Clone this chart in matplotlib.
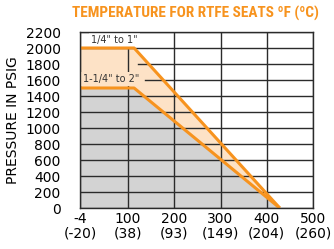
import matplotlib
matplotlib.use("Agg")
import matplotlib.pyplot as plt

# temperature (F) / pressure (psig) rating curves
small_temp = [-4, 113, 428]
small_psi = [2000, 2000, 0]
large_temp = [-4, 113, 428]
large_psi = [1500, 1500, 0]

x_ticks = [-4, 100, 200, 300, 400, 500]
x_labels = ["-4\n(-20)", "100\n(38)", "200\n(93)", "300\n(149)", "400\n(204)", "500\n(260)"]
y_ticks = list(range(0, 2201, 200))

ORANGE = "#f7931e"
PEACH = "#fde2c6"
GREY = "#d3d3d3"
GRID = "#2b2b2b"

fig = plt.figure(figsize=(3.34, 2.49), dpi=100)
ax = fig.add_axes([80 / 334, 1 - 208 / 249, 233 / 334, 176 / 249])

ax.fill_between(small_temp, small_psi, color=PEACH, lw=0, zorder=1)
ax.fill_between(large_temp, large_psi, color=GREY, lw=0, zorder=2)

# grid: the labelled rows are partly cut away near the size labels
for y in y_ticks:
    xmin = 0.0
    if y == 1800:
        xmin = 0.25
    elif y == 1600:
        xmin = 0.28
    ax.axhline(y, xmin=xmin, color=GRID, lw=1.0, zorder=3)
for x in x_ticks:
    ax.axvline(x, color=GRID, lw=1.0, zorder=3)

ax.plot(small_temp, small_psi, color=ORANGE, lw=2.2, zorder=4, solid_capstyle="butt")
ax.plot(large_temp, large_psi, color=ORANGE, lw=2.2, zorder=4, solid_capstyle="butt")

ax.text(70, 2100, '1/4" to 1"', fontsize=7, ha="center", va="center", color="#333333", zorder=3.5,
        bbox=dict(facecolor="white", edgecolor="none", pad=1.5))
ax.text(64, 1610, '1-1/4" to 2"', fontsize=7, ha="center", va="center", color="#333333", zorder=3.5,
        bbox=dict(facecolor=PEACH, edgecolor="none", pad=1.5))

ax.set_xlim(-4, 500)
ax.set_ylim(0, 2200)
ax.set_xticks(x_ticks)
ax.set_xticklabels(x_labels, fontsize=10, linespacing=1.0)
ax.set_yticks(y_ticks)
ax.set_yticklabels([str(v) for v in y_ticks], fontsize=10)
ax.tick_params(axis="x", length=0, pad=3)
ax.tick_params(axis="y", length=0, pad=14)
for s in ax.spines.values():
    s.set_color(GRID)
    s.set_linewidth(1.0)
    s.set_zorder(6)

ax.set_ylabel("PRESSURE IN PSIG", fontsize=10, labelpad=4)
fig.text(195 / 334, 1 - 13 / 249, "TEMPERATURE FOR RTFE SEATS ºF (ºC)",
         fontsize=11, fontweight="bold", color=ORANGE, ha="center", va="center",
         family=["Roboto Condensed", "Roboto", "DejaVu Sans"])

fig.savefig("out.png", dpi=100)
